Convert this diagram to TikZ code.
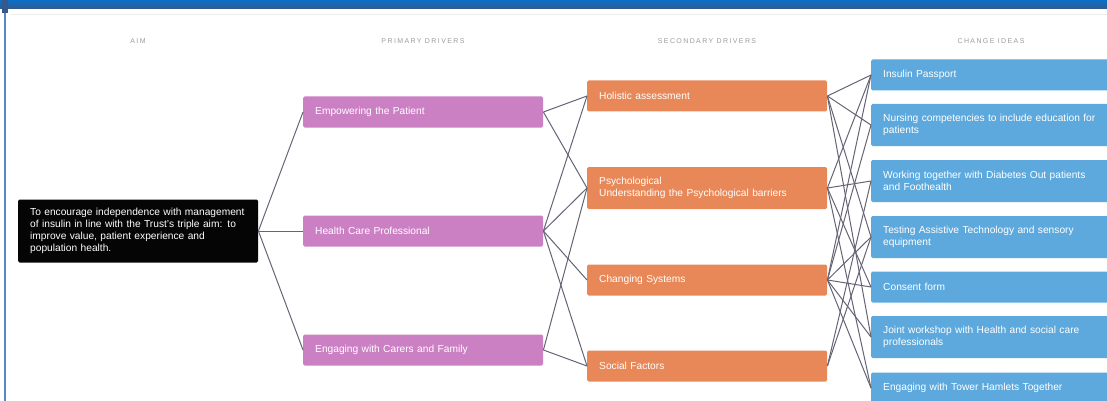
\documentclass[tikz,border=0pt]{standalone}
\usepackage{fontspec}
\setmainfont{Liberation Sans}
\newfontfamily\headfont[LetterSpace=20]{Liberation Sans}
\definecolor{bartop}{HTML}{0A70C6}
\definecolor{barbot}{HTML}{33598F}
\definecolor{edgeblue}{HTML}{5B86C6}
\definecolor{headgrey}{HTML}{9C9C9C}
\definecolor{aimblack}{HTML}{050505}
\definecolor{primpink}{HTML}{CC80C4}
\definecolor{secorange}{HTML}{E88858}
\definecolor{ideablue}{HTML}{5DA9DD}
\definecolor{linkgrey}{HTML}{646476}

\begin{document}
\begin{tikzpicture}[x=1pt,y=-1pt,
  head/.style={text=headgrey,font=\headfont\fontsize{7}{8}\selectfont},
  box/.style={rectangle,rounded corners=1.5pt,anchor=west,minimum height=31pt,
    text width=216pt,inner xsep=12pt,inner ysep=2pt,align=left,text=white,
    font=\fontsize{10.2}{11.5}\selectfont},
  tall/.style={minimum height=42pt},
  aimbox/.style={box,fill=aimblack,minimum height=63pt,font=\fontsize{10.2}{12}\selectfont},
  primary/.style={box,fill=primpink},
  secondary/.style={box,fill=secorange},
  idea/.style={box,fill=ideablue,text width=226pt},
  link/.style={draw=linkgrey,line width=1pt}]

\clip (0,0) rectangle (1107,401);
\fill[white] (0,0) rectangle (1107,401);

% frame
\shade[top color=bartop,bottom color=barbot] (0,0) rectangle (1107,8.5);
\draw[edgeblue,line width=2pt] (5,0) -- (5,401);
\fill[barbot] (2,0) rectangle (8,13);
\draw[black!7,line width=0.8pt] (10,14) -- (1107,14);

% column titles
\node[head] (hAim) at (138,41) {AIM};
\node[head] (hPrim) at (423,41) {PRIMARY DRIVERS};
\node[head] (hSec) at (707,41) {SECONDARY DRIVERS};
\node[head] (hIdea) at (991,41) {CHANGE IDEAS};

% aim
\node[aimbox] (aim) at (18,231) {To encourage independence with management\\of insulin in line with the Trust's triple aim: to\\improve value, patient experience and\\population health.};

% primary drivers
\node[primary] (pEmp) at (303,112) {Empowering the Patient};
\node[primary] (pHcp) at (303,231) {Health Care Professional};
\node[primary] (pCar) at (303,350) {Engaging with Carers and Family};

% secondary drivers
\node[secondary] (sHol) at (587,96) {Holistic assessment};
\node[secondary,tall] (sPsy) at (587,188) {Psychological\\Understanding the Psychological barriers};
\node[secondary] (sSys) at (587,280) {Changing Systems};
\node[secondary] (sSoc) at (587,366) {Social Factors};

% change ideas
\node[idea] (cPass) at (871,75) {Insulin Passport};
\node[idea,tall] (cNurse) at (871,125) {Nursing competencies to include education for\\patients};
\node[idea,tall] (cWork) at (871,181) {Working together with Diabetes Out patients\\and Foothealth};
\node[idea,tall] (cTech) at (871,237) {Testing Assistive Technology and sensory\\equipment};
\node[idea] (cCons) at (871,287) {Consent form};
\node[idea,tall] (cJoint) at (871,337) {Joint workshop with Health and social care\\professionals};
\node[idea] (cTower) at (871,388) {Engaging with Tower Hamlets Together};

% aim to primary
\draw[link] (aim.east) -- (pEmp.west);
\draw[link] (aim.east) -- (pHcp.west);
\draw[link] (aim.east) -- (pCar.west);

% primary to secondary
\draw[link] (pEmp.east) -- (sHol.west);
\draw[link] (pEmp.east) -- (sPsy.west);
\draw[link] (pHcp.east) -- (sHol.west);
\draw[link] (pHcp.east) -- (sPsy.west);
\draw[link] (pHcp.east) -- (sSys.west);
\draw[link] (pHcp.east) -- (sSoc.west);
\draw[link] (pCar.east) -- (sPsy.west);
\draw[link] (pCar.east) -- (sSoc.west);

% secondary to change ideas
\draw[link] (sHol.east) -- (cPass.west);
\draw[link] (sHol.east) -- (cNurse.west);
\draw[link] (sHol.east) -- (cTech.west);
\draw[link] (sHol.east) -- (cJoint.west);
\draw[link] (sPsy.east) -- (cPass.west);
\draw[link] (sPsy.east) -- (cWork.west);
\draw[link] (sPsy.east) -- (cCons.west);
\draw[link] (sPsy.east) -- (cTower.west);
\draw[link] (sSys.east) -- (cPass.west);
\draw[link] (sSys.east) -- (cNurse.west);
\draw[link] (sSys.east) -- (cTech.west);
\draw[link] (sSys.east) -- (cCons.west);
\draw[link] (sSys.east) -- (cJoint.west);
\draw[link] (sSys.east) -- (cTower.west);
\draw[link] (sSoc.east) -- (cWork.west);
\draw[link] (sSoc.east) -- (cTech.west);

\end{tikzpicture}
\end{document}
